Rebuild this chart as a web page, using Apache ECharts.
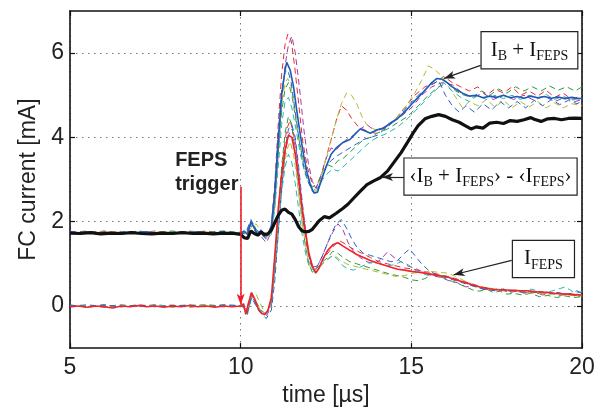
<!DOCTYPE html>
<html><head><meta charset="utf-8">
<script src="https://cdn.jsdelivr.net/npm/echarts@6/dist/echarts.min.js"></script>
<style>html,body{margin:0;padding:0;background:#fff}#c{width:605px;height:412px}</style>
</head><body><div id="c"></div>
<script>
// ---- axes ----
const xMin = 5, xMax = 20, xStep = 5;
const yMin = -1, yMax = 7;
const yTickValues = [0, 2, 4, 6];

// ---- averages ----
const avgUpperBlue = [[5,1.74],[5.25,1.72],[5.5,1.76],[5.75,1.72],[6,1.75],[6.25,1.73],[6.5,1.71],[6.75,1.75],[7,1.73],[7.25,1.76],[7.5,1.72],[7.75,1.74],[8,1.71],[8.25,1.75],[8.5,1.73],[8.75,1.76],[9,1.72],[9.25,1.74],[9.5,1.72],[9.75,1.75],[10,1.72],[10.1,1.78],[10.2,1.7],[10.3,2.0],[10.4,1.85],[10.5,1.7],[10.6,1.8],[10.7,1.65],[10.8,1.7],[10.9,1.9],[11.0,2.7],[11.1,3.9],[11.2,5.0],[11.3,5.6],[11.35,5.78],[11.45,5.6],[11.55,5.2],[11.65,4.6],[11.75,4.05],[11.85,3.55],[11.95,3.15],[12.05,2.85],[12.15,2.68],[12.25,2.7],[12.35,2.95],[12.5,3.3],[12.65,3.6],[12.8,3.75],[13.0,3.88],[13.2,3.95],[13.4,4.12],[13.5,4.2],[13.65,4.15],[13.8,4.1],[14.0,4.18],[14.2,4.22],[14.4,4.35],[14.6,4.45],[14.8,4.6],[15.0,4.78],[15.2,4.95],[15.4,5.12],[15.6,5.3],[15.75,5.4],[15.9,5.38],[16.05,5.3],[16.2,5.2],[16.35,5.12],[16.5,5.05],[16.7,4.98],[16.9,5.0],[17.1,4.94],[17.3,4.98],[17.5,4.95],[17.7,5.0],[17.9,4.94],[18.1,4.97],[18.3,4.93],[18.5,4.98],[18.7,4.94],[18.9,4.97],[19.1,4.93],[19.3,4.96],[19.5,4.92],[19.7,4.95],[19.9,4.92],[20,4.93]];
const avgFepsRed = [[5,-0.02],[5.25,0.0],[5.5,-0.03],[5.75,0.0],[6,-0.02],[6.25,-0.05],[6.5,0.0],[6.75,-0.02],[7,0.01],[7.25,-0.02],[7.5,0.0],[7.75,-0.03],[8,0.0],[8.25,-0.02],[8.5,0.01],[8.75,-0.02],[9,0.0],[9.25,-0.03],[9.5,0.0],[9.75,-0.02],[10,0.0],[10.08,0.05],[10.15,-0.2],[10.22,0.05],[10.32,0.32],[10.42,0.15],[10.53,-0.1],[10.62,-0.18],[10.7,-0.2],[10.8,-0.1],[10.9,0.2],[11.0,1.2],[11.1,2.3],[11.2,3.1],[11.3,3.7],[11.4,4.05],[11.5,4.0],[11.6,3.6],[11.7,3.0],[11.8,2.3],[11.9,1.75],[12.0,1.25],[12.1,0.95],[12.2,0.78],[12.3,0.9],[12.4,1.1],[12.55,1.32],[12.7,1.45],[12.85,1.5],[13.0,1.42],[13.2,1.32],[13.4,1.22],[13.6,1.15],[13.8,1.08],[14.0,1.02],[14.2,0.97],[14.4,0.92],[14.6,0.87],[14.8,0.85],[15.0,0.82],[15.2,0.8],[15.4,0.78],[15.6,0.75],[15.8,0.72],[16.0,0.7],[16.2,0.65],[16.4,0.6],[16.6,0.55],[16.8,0.5],[17.0,0.45],[17.2,0.42],[17.4,0.39],[17.6,0.38],[17.8,0.38],[18.0,0.37],[18.2,0.36],[18.4,0.36],[18.6,0.34],[18.8,0.33],[19.0,0.32],[19.2,0.3],[19.4,0.29],[19.6,0.28],[19.8,0.27],[20,0.26]];
const diffBlack = [[5,1.73],[5.3,1.72],[5.6,1.74],[5.9,1.71],[6.2,1.73],[6.5,1.72],[6.8,1.74],[7.1,1.72],[7.4,1.71],[7.7,1.73],[8.0,1.72],[8.3,1.74],[8.6,1.72],[8.9,1.73],[9.2,1.71],[9.5,1.73],[9.8,1.72],[10.0,1.70],[10.1,1.62],[10.2,1.60],[10.3,1.78],[10.4,1.72],[10.5,1.68],[10.6,1.75],[10.7,1.7],[10.8,1.71],[10.9,1.8],[11.0,1.98],[11.1,2.15],[11.2,2.27],[11.3,2.3],[11.4,2.22],[11.5,2.18],[11.6,2.05],[11.7,1.88],[11.8,1.78],[11.9,1.76],[12.0,1.77],[12.1,1.82],[12.2,1.92],[12.3,2.02],[12.45,2.12],[12.6,2.09],[12.8,2.2],[13.0,2.32],[13.15,2.42],[13.3,2.55],[13.5,2.72],[13.7,2.88],[13.9,2.97],[14.1,3.05],[14.3,3.2],[14.5,3.42],[14.7,3.64],[14.9,3.9],[15.05,4.1],[15.2,4.28],[15.4,4.44],[15.6,4.5],[15.8,4.54],[16.0,4.5],[16.2,4.42],[16.4,4.36],[16.6,4.27],[16.75,4.2],[16.9,4.25],[17.1,4.22],[17.3,4.34],[17.5,4.36],[17.7,4.33],[17.9,4.4],[18.1,4.38],[18.3,4.42],[18.5,4.47],[18.6,4.43],[18.8,4.38],[19.0,4.44],[19.2,4.45],[19.4,4.42],[19.6,4.45],[19.8,4.46],[20,4.45]];

// ---- individual shots, I_B + I_FEPS ----
const upRed = [[5,1.76],[5.5,1.72],[6,1.78],[6.5,1.73],[7,1.77],[7.5,1.71],[8,1.76],[8.5,1.74],[9,1.78],[9.5,1.72],[10,1.75],[10.15,1.7],[10.3,1.95],[10.45,1.8],[10.6,1.72],[10.75,1.62],[10.9,1.9],[11.0,2.9],[11.1,4.3],[11.2,5.5],[11.3,6.2],[11.38,6.45],[11.48,6.3],[11.58,5.7],[11.7,4.8],[11.82,3.9],[11.95,3.3],[12.08,2.95],[12.2,2.8],[12.35,3.05],[12.5,3.5],[12.65,3.95],[12.8,4.4],[12.95,4.75],[13.1,4.65],[13.25,4.45],[13.45,4.25],[13.7,4.15],[13.95,4.1],[14.2,4.25],[14.5,4.4],[14.8,4.7],[15.1,5.0],[15.4,5.2],[15.7,5.3],[15.95,5.45],[16.2,5.3],[16.45,5.2],[16.7,5.1],[16.95,5.2],[17.2,5.0],[17.45,5.15],[17.7,5.05],[17.95,5.2],[18.2,5.0],[18.45,5.1],[18.7,4.98],[18.95,5.12],[19.2,4.95],[19.45,5.05],[19.7,4.9],[20,5.0]];
const upMag = [[5,1.74],[5.5,1.78],[6,1.72],[6.5,1.77],[7,1.73],[7.5,1.78],[8,1.72],[8.5,1.77],[9,1.73],[9.5,1.76],[10,1.72],[10.15,1.78],[10.3,1.9],[10.45,1.75],[10.6,1.65],[10.75,1.5],[10.9,1.75],[11.0,2.4],[11.1,3.6],[11.2,4.8],[11.3,5.7],[11.4,6.2],[11.5,6.4],[11.6,6.0],[11.72,5.2],[11.85,4.2],[11.98,3.4],[12.1,2.95],[12.22,2.8],[12.35,3.1],[12.5,3.5],[12.65,3.75],[12.8,3.7],[12.95,3.85],[13.1,3.95],[13.3,4.05],[13.5,4.2],[13.7,4.3],[13.95,4.15],[14.2,4.25],[14.45,4.35],[14.7,4.5],[15.0,4.7],[15.3,5.0],[15.6,5.2],[15.9,5.3],[16.2,5.25],[16.5,5.05],[16.8,4.95],[17.1,5.05],[17.4,4.9],[17.7,5.0],[18.0,4.9],[18.3,5.0],[18.6,4.88],[18.9,4.98],[19.2,4.85],[19.5,4.95],[19.8,4.85],[20,4.9]];
const upGrn = [[5,1.73],[5.5,1.77],[6,1.74],[6.5,1.71],[7,1.76],[7.5,1.74],[8,1.78],[8.5,1.72],[9,1.75],[9.5,1.78],[10,1.74],[10.15,1.72],[10.3,1.98],[10.45,1.85],[10.6,1.72],[10.75,1.68],[10.9,1.8],[11.0,2.5],[11.1,3.6],[11.2,4.6],[11.3,5.15],[11.4,5.3],[11.5,5.0],[11.6,4.5],[11.72,3.9],[11.85,3.4],[11.98,3.05],[12.1,2.82],[12.25,2.9],[12.4,3.2],[12.55,3.35],[12.7,3.3],[12.85,3.45],[13.0,3.5],[13.2,3.65],[13.4,3.8],[13.6,3.95],[13.8,4.0],[14.0,4.1],[14.3,4.2],[14.6,4.35],[14.9,4.5],[15.2,4.75],[15.5,5.0],[15.8,5.2],[16.05,5.3],[16.3,5.1],[16.55,5.0],[16.8,4.95],[17.05,5.1],[17.3,5.0],[17.55,5.15],[17.8,5.05],[18.05,5.2],[18.3,5.1],[18.55,5.2],[18.8,5.1],[19.05,5.22],[19.3,5.12],[19.55,5.2],[19.8,5.1],[20,5.2]];
const upOlv = [[5,1.75],[5.5,1.73],[6,1.77],[6.5,1.74],[7,1.72],[7.5,1.76],[8,1.73],[8.5,1.78],[9,1.74],[9.5,1.72],[10,1.76],[10.15,1.7],[10.3,1.85],[10.45,1.95],[10.6,1.78],[10.75,1.6],[10.9,1.75],[11.0,2.5],[11.1,3.8],[11.2,4.8],[11.3,5.3],[11.38,5.4],[11.48,5.2],[11.6,4.6],[11.72,3.9],[11.85,3.3],[11.98,2.95],[12.1,2.75],[12.22,2.72],[12.35,3.0],[12.5,3.5],[12.65,3.95],[12.8,4.4],[12.95,4.8],[13.1,5.05],[13.25,5.0],[13.4,4.8],[13.55,4.5],[13.7,4.3],[13.9,4.2],[14.1,4.15],[14.35,4.3],[14.6,4.5],[14.85,4.75],[15.1,5.05],[15.3,5.35],[15.5,5.7],[15.7,5.6],[15.9,5.45],[16.1,5.2],[16.3,4.95],[16.5,4.7],[16.7,4.85],[16.95,4.75],[17.2,4.9],[17.45,4.72],[17.7,4.88],[17.95,4.7],[18.2,4.85],[18.45,4.72],[18.7,4.85],[18.95,4.7],[19.2,4.82],[19.45,4.7],[19.7,4.8],[20,4.75]];
const upCyn = [[5,1.72],[5.5,1.75],[6,1.71],[6.5,1.76],[7,1.74],[7.5,1.7],[8,1.75],[8.5,1.73],[9,1.71],[9.5,1.75],[10,1.73],[10.15,1.76],[10.3,1.92],[10.45,1.78],[10.6,1.7],[10.75,1.58],[10.9,1.7],[11.0,2.3],[11.1,3.3],[11.2,4.3],[11.3,4.85],[11.4,4.95],[11.5,4.7],[11.62,4.2],[11.75,3.6],[11.88,3.15],[12.0,2.9],[12.12,2.75],[12.25,2.8],[12.4,3.0],[12.55,3.15],[12.7,3.25],[12.85,3.2],[13.0,3.3],[13.2,3.45],[13.4,3.6],[13.6,3.75],[13.8,3.9],[14.0,4.0],[14.3,4.1],[14.6,4.25],[14.9,4.45],[15.2,4.7],[15.5,4.95],[15.75,5.15],[15.95,5.3],[16.2,5.1],[16.45,4.95],[16.7,4.85],[16.95,5.0],[17.2,4.9],[17.45,5.0],[17.7,4.92],[17.95,5.0],[18.2,4.9],[18.45,5.0],[18.7,4.92],[18.95,5.02],[19.2,4.9],[19.45,4.98],[19.7,4.88],[20,4.95]];
const upBlu = [[5,1.77],[5.5,1.73],[6,1.75],[6.5,1.72],[7,1.78],[7.5,1.73],[8,1.71],[8.5,1.76],[9,1.72],[9.5,1.77],[10,1.71],[10.15,1.74],[10.3,2.05],[10.45,1.82],[10.6,1.7],[10.75,1.6],[10.9,1.85],[11.0,2.8],[11.1,4.1],[11.2,5.1],[11.3,5.55],[11.38,5.6],[11.48,5.3],[11.6,4.6],[11.72,3.9],[11.85,3.3],[11.98,2.95],[12.1,2.72],[12.22,2.68],[12.35,2.95],[12.5,3.3],[12.65,3.45],[12.8,3.55],[13.0,3.65],[13.2,3.75],[13.4,3.85],[13.6,3.95],[13.8,4.0],[14.0,4.05],[14.3,4.25],[14.6,4.45],[14.9,4.75],[15.2,5.0],[15.5,5.2],[15.8,5.35],[16.0,5.0],[16.2,4.75],[16.4,4.6],[16.6,4.75],[16.85,4.6],[17.1,4.8],[17.35,4.65],[17.6,4.85],[17.85,4.7],[18.1,4.85],[18.35,4.7],[18.6,4.88],[18.85,4.75],[19.1,4.9],[19.35,4.78],[19.6,4.88],[19.85,4.8],[20,4.85]];

// ---- individual shots, I_FEPS ----
const loRed = [[5,0.02],[5.5,-0.03],[6,0.01],[6.5,-0.02],[7,0.03],[7.5,-0.01],[8,0.02],[8.5,-0.03],[9,0.01],[9.5,-0.02],[10,0.0],[10.1,0.05],[10.18,-0.15],[10.3,0.3],[10.42,0.1],[10.55,-0.12],[10.7,-0.22],[10.85,-0.05],[10.95,0.6],[11.05,1.6],[11.15,2.7],[11.25,3.6],[11.35,4.2],[11.45,4.4],[11.55,4.1],[11.65,3.4],[11.75,2.6],[11.85,1.9],[11.95,1.35],[12.05,1.0],[12.15,0.85],[12.3,0.95],[12.45,1.15],[12.6,1.3],[12.75,1.45],[12.9,1.55],[13.1,1.45],[13.3,1.35],[13.55,1.25],[13.8,1.15],[14.05,1.05],[14.3,1.0],[14.55,0.95],[14.8,0.9],[15.05,0.88],[15.3,0.82],[15.55,0.8],[15.8,0.75],[16.05,0.7],[16.3,0.65],[16.55,0.58],[16.8,0.52],[17.05,0.45],[17.3,0.42],[17.55,0.38],[17.8,0.35],[18.05,0.36],[18.3,0.32],[18.55,0.34],[18.8,0.3],[19.05,0.31],[19.3,0.28],[19.55,0.27],[19.8,0.25],[20,0.24]];
const loMag = [[5,-0.02],[5.5,0.02],[6,-0.03],[6.5,0.01],[7,-0.02],[7.5,0.03],[8,-0.01],[8.5,0.02],[9,-0.02],[9.5,0.01],[10,-0.02],[10.1,0.0],[10.2,-0.2],[10.32,0.25],[10.45,0.05],[10.6,-0.15],[10.75,-0.25],[10.9,0.0],[11.0,0.8],[11.1,1.8],[11.2,2.8],[11.3,3.6],[11.4,4.05],[11.5,4.2],[11.6,3.9],[11.7,3.2],[11.8,2.4],[11.9,1.7],[12.0,1.2],[12.1,0.92],[12.25,0.95],[12.4,1.2],[12.55,1.5],[12.7,1.75],[12.85,1.95],[13.0,1.8],[13.15,1.5],[13.3,1.3],[13.5,1.15],[13.7,1.05],[13.9,1.0],[14.1,1.1],[14.3,1.28],[14.5,1.15],[14.7,1.05],[14.9,0.95],[15.1,0.9],[15.35,0.8],[15.6,0.72],[15.85,0.68],[16.1,0.6],[16.35,0.55],[16.6,0.45],[16.85,0.5],[17.1,0.4],[17.35,0.38],[17.6,0.42],[17.85,0.32],[18.1,0.35],[18.35,0.3],[18.6,0.33],[18.85,0.26],[19.1,0.3],[19.35,0.25],[19.6,0.28],[19.85,0.22],[20,0.25]];
const loGrn = [[5,0.01],[5.5,-0.02],[6,0.02],[6.5,-0.01],[7,0.0],[7.5,0.02],[8,-0.03],[8.5,0.01],[9,0.03],[9.5,-0.01],[10,0.01],[10.1,-0.05],[10.2,-0.18],[10.32,0.28],[10.45,0.1],[10.6,-0.1],[10.75,-0.2],[10.9,0.1],[11.0,1.0],[11.1,2.2],[11.2,3.3],[11.3,4.1],[11.4,4.5],[11.5,4.3],[11.6,3.6],[11.7,2.8],[11.8,2.0],[11.9,1.4],[12.0,1.0],[12.1,0.8],[12.25,0.9],[12.4,1.05],[12.55,1.15],[12.7,1.3],[12.85,1.25],[13.0,1.15],[13.2,1.05],[13.4,1.0],[13.6,0.95],[13.8,0.9],[14.0,0.85],[14.2,0.8],[14.4,0.75],[14.6,0.72],[14.8,0.68],[15.0,0.62],[15.2,0.6],[15.4,0.65],[15.6,0.75],[15.8,0.7],[16.0,0.65],[16.2,0.58],[16.4,0.52],[16.6,0.45],[16.8,0.38],[17.0,0.35],[17.2,0.4],[17.4,0.32],[17.6,0.35],[17.8,0.28],[18.0,0.3],[18.25,0.26],[18.5,0.3],[18.75,0.22],[19.0,0.25],[19.25,0.2],[19.5,0.24],[19.75,0.2],[20,0.22]];
const loOlv = [[5,-0.01],[5.5,0.02],[6,-0.02],[6.5,0.02],[7,-0.01],[7.5,0.0],[8,0.02],[8.5,-0.02],[9,0.03],[9.5,0.0],[10,-0.01],[10.1,0.02],[10.2,-0.1],[10.3,0.15],[10.45,0.28],[10.58,0.05],[10.72,-0.2],[10.85,-0.1],[10.95,0.4],[11.05,1.3],[11.15,2.3],[11.25,3.1],[11.35,3.7],[11.45,3.9],[11.55,3.6],[11.65,3.0],[11.75,2.3],[11.85,1.7],[11.95,1.2],[12.05,0.9],[12.15,0.8],[12.3,0.9],[12.45,1.05],[12.6,1.15],[12.75,1.2],[12.9,1.1],[13.1,1.0],[13.3,0.95],[13.55,0.9],[13.8,0.85],[14.05,0.8],[14.3,0.75],[14.55,0.7],[14.8,0.72],[15.05,0.78],[15.3,0.8],[15.55,0.82],[15.8,0.8],[16.05,0.78],[16.3,0.7],[16.55,0.6],[16.8,0.5],[17.05,0.45],[17.3,0.42],[17.55,0.4],[17.8,0.36],[18.05,0.34],[18.3,0.32],[18.55,0.3],[18.8,0.3],[19.05,0.28],[19.3,0.27],[19.55,0.26],[19.8,0.25],[20,0.24]];
const loCyn = [[5,0.0],[5.5,0.03],[6,-0.01],[6.5,0.03],[7,-0.02],[7.5,0.01],[8,0.0],[8.5,0.03],[9,-0.01],[9.5,0.02],[10,0.0],[10.1,0.03],[10.2,-0.12],[10.32,0.22],[10.45,0.08],[10.6,-0.12],[10.75,-0.2],[10.9,0.05],[11.0,0.8],[11.1,1.8],[11.2,2.7],[11.3,3.3],[11.4,3.6],[11.5,3.4],[11.6,2.9],[11.7,2.3],[11.8,1.7],[11.9,1.25],[12.0,0.95],[12.12,0.85],[12.25,0.9],[12.4,1.0],[12.55,1.1],[12.7,1.2],[12.85,1.1],[13.0,0.95],[13.15,0.88],[13.3,0.85],[13.5,0.92],[13.7,1.0],[13.9,1.05],[14.1,1.0],[14.3,0.95],[14.5,0.98],[14.7,1.05],[14.9,0.98],[15.1,0.85],[15.3,0.78],[15.5,0.72],[15.7,0.75],[15.9,0.72],[16.1,0.7],[16.3,0.62],[16.5,0.58],[16.7,0.5],[16.9,0.45],[17.1,0.42],[17.3,0.4],[17.5,0.38],[17.7,0.4],[17.9,0.35],[18.1,0.38],[18.3,0.34],[18.5,0.4],[18.7,0.36],[18.9,0.32],[19.1,0.35],[19.3,0.4],[19.5,0.45],[19.65,0.38],[19.8,0.3],[20,0.34]];
const loBlu = [[5,0.02],[5.5,-0.01],[6,0.03],[6.5,-0.02],[7,0.02],[7.5,-0.02],[8,0.01],[8.5,0.0],[9,-0.02],[9.5,0.03],[10,0.01],[10.1,-0.02],[10.2,-0.15],[10.32,0.2],[10.45,0.0],[10.6,-0.18],[10.75,-0.3],[10.9,-0.1],[11.0,0.6],[11.1,1.7],[11.2,2.8],[11.3,3.7],[11.4,4.2],[11.5,4.3],[11.6,4.0],[11.7,3.3],[11.8,2.5],[11.9,1.8],[12.0,1.2],[12.1,0.9],[12.2,0.88],[12.35,1.1],[12.5,1.4],[12.65,1.7],[12.8,1.95],[12.95,2.05],[13.1,1.85],[13.25,1.6],[13.4,1.4],[13.6,1.25],[13.8,1.2],[14.0,1.15],[14.2,1.1],[14.4,1.05],[14.6,1.08],[14.8,1.25],[14.95,1.35],[15.1,1.2],[15.3,1.0],[15.5,0.85],[15.7,0.75],[15.9,0.7],[16.1,0.65],[16.3,0.6],[16.5,0.55],[16.7,0.5],[16.9,0.45],[17.1,0.4],[17.3,0.38],[17.5,0.35],[17.7,0.4],[17.9,0.35],[18.1,0.38],[18.3,0.3],[18.5,0.35],[18.7,0.3],[18.9,0.35],[19.1,0.3],[19.3,0.32],[19.5,0.28],[19.7,0.3],[19.85,0.36],[20,0.3]];

// ---- annotations (data coordinates) ----
const triggerArrow = [[10, 2.83], [10, 0.03]];
const triggerTextAt = [8.08, 3.17];
const boxSumAt = [18.46, 6.07], arrowSum = [[17.03, 5.71], [15.96, 5.40]];
const boxDiffAt = [17.32, 3.07], arrowDiff = [[14.80, 3.06], [14.14, 3.06]];
const boxFepsAt = [18.87, 1.115], arrowFeps = [[17.94, 1.08], [16.24, 0.74]];

const C = {red:'#ec2a2e', mag:'#a63aa8', grn:'#2e9a3e', olv:'#b3bb2c', cyn:'#2ab4b8', blu:'#2a62c8'};
const SANS = 'Liberation Sans, Arial, Helvetica, sans-serif';
const SERIF = 'Liberation Serif, Times New Roman, serif';

function trace(name, data, color, width, dashed) {
  return {
    name, type: 'line', data, showSymbol: false, symbol: 'none', silent: true,
    lineStyle: {color, width, type: dashed ? [6, 4] : 'solid'},
    xAxisIndex: 0, yAxisIndex: 0
  };
}
const rich = {
  m: {fontFamily: SERIF, fontSize: 21, lineHeight: 26, color: '#111'},
  s: {fontFamily: SERIF, fontSize: 14, lineHeight: 14, verticalAlign: 'bottom', color: '#111'}
};
function box(coord, text, pad) {
  return {
    coord, symbol: 'rect', symbolSize: 1, itemStyle: {color: 'rgba(0,0,0,0)'},
    label: {show: true, position: 'inside', formatter: text, rich,
      backgroundColor: '#fff', borderColor: '#222', borderWidth: 1.2, padding: pad}
  };
}
function arrow(pts, color, w) {
  return [{coord: pts[0], lineStyle: {color, width: w, type: 'solid'}}, {coord: pts[1]}];
}

const series = [
  trace('upRed', upRed, C.red, 1, true),
  trace('upMag', upMag, C.mag, 1, true),
  trace('upGrn', upGrn, C.grn, 1, true),
  trace('upOlv', upOlv, C.olv, 1, true),
  trace('upCyn', upCyn, C.cyn, 1, true),
  trace('upBlu', upBlu, C.blu, 1, true),
  trace('loRed', loRed, C.red, 1, true),
  trace('loMag', loMag, C.mag, 1, true),
  trace('loGrn', loGrn, C.grn, 1, true),
  trace('loOlv', loOlv, C.olv, 1, true),
  trace('loCyn', loCyn, C.cyn, 1, true),
  trace('loBlu', loBlu, C.blu, 1, true),
  trace('avgUpper', avgUpperBlue, '#1a5cb8', 1.6, false),
  trace('avgFeps', avgFepsRed, '#f0232a', 1.6, false),
  Object.assign(trace('diff', diffBlack, '#111', 3.2, false), {
    markLine: {
      silent: true, animation: false, symbol: ['none', 'arrow'], symbolSize: [6, 11],
      label: {show: false},
      data: [
        arrow(triggerArrow, '#ee1c24', 1.6),
        arrow(arrowSum, '#222', 1.2),
        arrow(arrowDiff, '#222', 1.2),
        arrow(arrowFeps, '#222', 1.2)
      ]
    },
    markPoint: {
      silent: true, animation: false,
      data: [
        {coord: triggerTextAt, symbol: 'rect', symbolSize: 1, itemStyle: {color: 'rgba(0,0,0,0)'},
          label: {show: true, position: 'inside', align: 'left', verticalAlign: 'middle',
            formatter: 'FEPS\ntrigger', fontFamily: SANS, fontWeight: 'bold', fontSize: 20, lineHeight: 24, color: '#222'}},
        box(boxSumAt, '{m|I}{s|B}{m| + I}{s|FEPS}', [5, 9, 5, 9]),
        box(boxDiffAt, '{m|‹I}{s|B}{m| + I}{s|FEPS}{m|› - ‹I}{s|FEPS}{m|›}', [5, 5, 5, 5]),
        box(boxFepsAt, '{m|I}{s|FEPS}', [5, 11, 5, 11])
      ]
    }
  })
];

const chart = echarts.init(document.getElementById('c'), null, {renderer: 'canvas'});
const gridLine = {show: true, lineStyle: {color: '#777', type: [1.5, 4.5], width: 1}};
const frameLine = {show: true, onZero: false, lineStyle: {color: '#111', width: 1.6}};
const innerTick = {show: true, inside: true, length: 5, lineStyle: {color: '#111', width: 1.2}};
chart.setOption({
  animation: false,
  backgroundColor: '#fff',
  grid: {left: 70, right: 23, top: 11, bottom: 54, show: false},
  xAxis: [
    {type: 'value', min: xMin, max: xMax, interval: xStep, position: 'bottom',
      name: 'time [µs]', nameLocation: 'middle', nameGap: 31,
      nameTextStyle: {fontFamily: SANS, fontSize: 23, color: '#222'},
      axisLine: frameLine, axisTick: innerTick,
      axisLabel: {fontFamily: SANS, fontSize: 23, color: '#222', margin: 8},
      splitLine: gridLine},
    {type: 'value', min: xMin, max: xMax, interval: xStep, position: 'top',
      axisLine: frameLine, axisTick: innerTick,
      axisLabel: {show: false}, splitLine: {show: false}}
  ],
  yAxis: [
    {type: 'value', min: yMin, max: yMax, position: 'left',
      name: 'FC current [mA]', nameLocation: 'middle', nameGap: 28,
      nameTextStyle: {fontFamily: SANS, fontSize: 23, color: '#222'},
      axisLine: frameLine,
      axisTick: Object.assign({customValues: yTickValues}, innerTick),
      axisLabel: {fontFamily: SANS, fontSize: 23, color: '#222', margin: 6, customValues: yTickValues},
      splitLine: gridLine},
    {type: 'value', min: yMin, max: yMax, position: 'right',
      axisLine: frameLine,
      axisTick: Object.assign({customValues: yTickValues}, innerTick),
      axisLabel: {show: false}, splitLine: {show: false}}
  ],
  series
});
</script>
</body></html>
